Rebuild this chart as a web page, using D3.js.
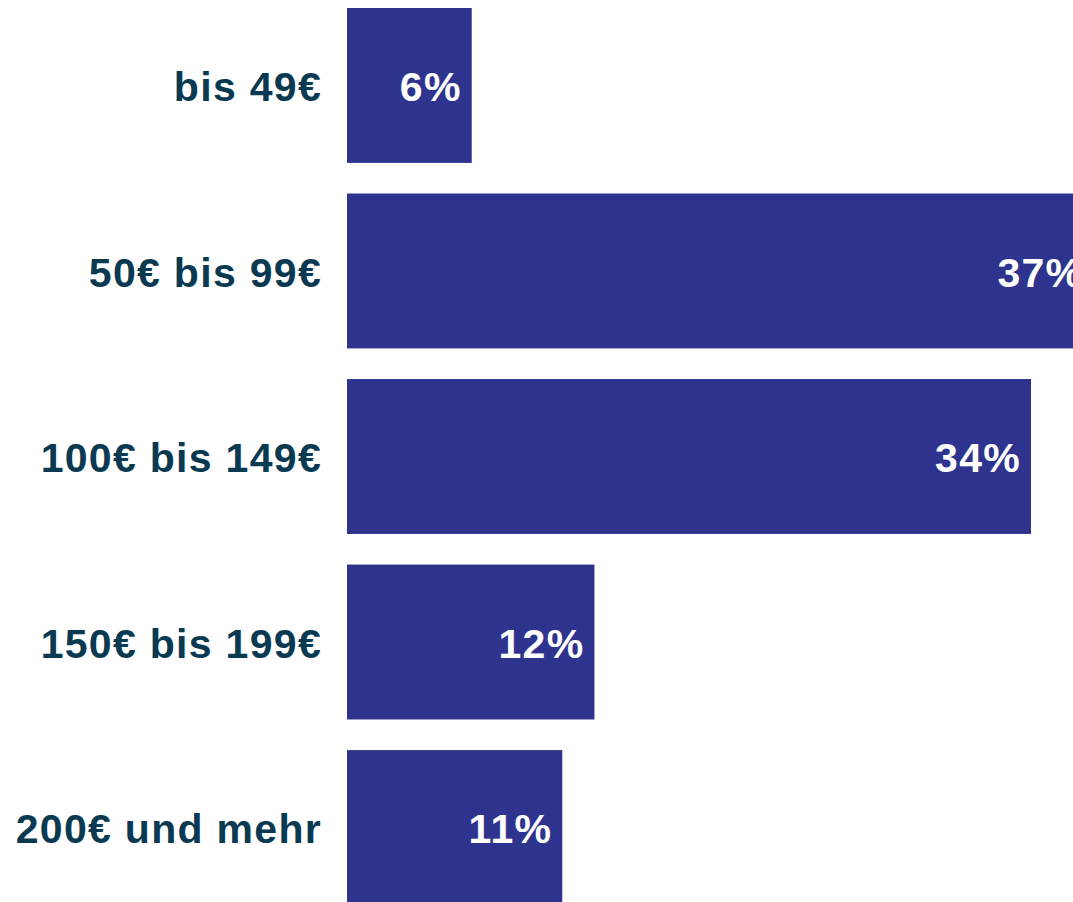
<!DOCTYPE html>
<html>
<head>
<meta charset="utf-8">
<script src="https://cdn.jsdelivr.net/npm/d3@7"></script>
<style>
  body { margin: 0; background: #fff; }
  svg { display: block; }
</style>
</head>
<body>
<svg id="chart"></svg>
<script>
const categories = ["bis 49€", "50€ bis 99€", "100€ bis 149€", "150€ bis 199€", "200€ und mehr"];
// bar lengths (labels show rounded values)
const values = [6.2, 37.1, 34, 12.3, 10.7];
const valueLabels = ["6%", "37%", "34%", "12%", "11%"];

const width = 1073;
const height = 902;
const x0 = 347;

const svg = d3.select("#chart")
  .attr("width", width)
  .attr("height", height);

const xScale = d3.scaleLinear()
  .domain([0, 34])
  .range([x0, 1031]);

const yScale = d3.scaleBand()
  .domain(categories)
  .range([8, 905])
  .paddingInner(0.165)
  .paddingOuter(0);

const data = categories.map((c, i) => ({ cat: c, value: values[i], label: valueLabels[i] }));

// bars
svg.selectAll(".bar")
  .data(data)
  .enter()
  .append("rect")
  .attr("class", "bar")
  .attr("x", xScale(0))
  .attr("y", d => yScale(d.cat))
  .attr("width", d => xScale(d.value) - xScale(0))
  .attr("height", yScale.bandwidth())
  .attr("fill", "#2e348d");

// category labels
svg.selectAll(".cat")
  .data(data)
  .enter()
  .append("text")
  .attr("class", "cat")
  .attr("x", 322)
  .attr("y", d => yScale(d.cat) + yScale.bandwidth() / 2)
  .attr("dy", "0.38em")
  .attr("text-anchor", "end")
  .style("font-family", "'Liberation Sans', Arial, sans-serif")
  .style("font-weight", "bold")
  .style("font-size", "41px")
  .style("letter-spacing", "1.3px")
  .attr("fill", "#0a3a52")
  .text(d => d.cat);

// value labels
svg.selectAll(".val")
  .data(data)
  .enter()
  .append("text")
  .attr("class", "val")
  .attr("x", d => xScale(d.value) - 10)
  .attr("y", d => yScale(d.cat) + yScale.bandwidth() / 2)
  .attr("dy", "0.38em")
  .attr("text-anchor", "end")
  .style("font-family", "'Liberation Sans', Arial, sans-serif")
  .style("font-weight", "bold")
  .style("font-size", "41px")
  .style("letter-spacing", "1.3px")
  .attr("fill", "#ffffff")
  .text(d => d.label);
</script>
</body>
</html>
